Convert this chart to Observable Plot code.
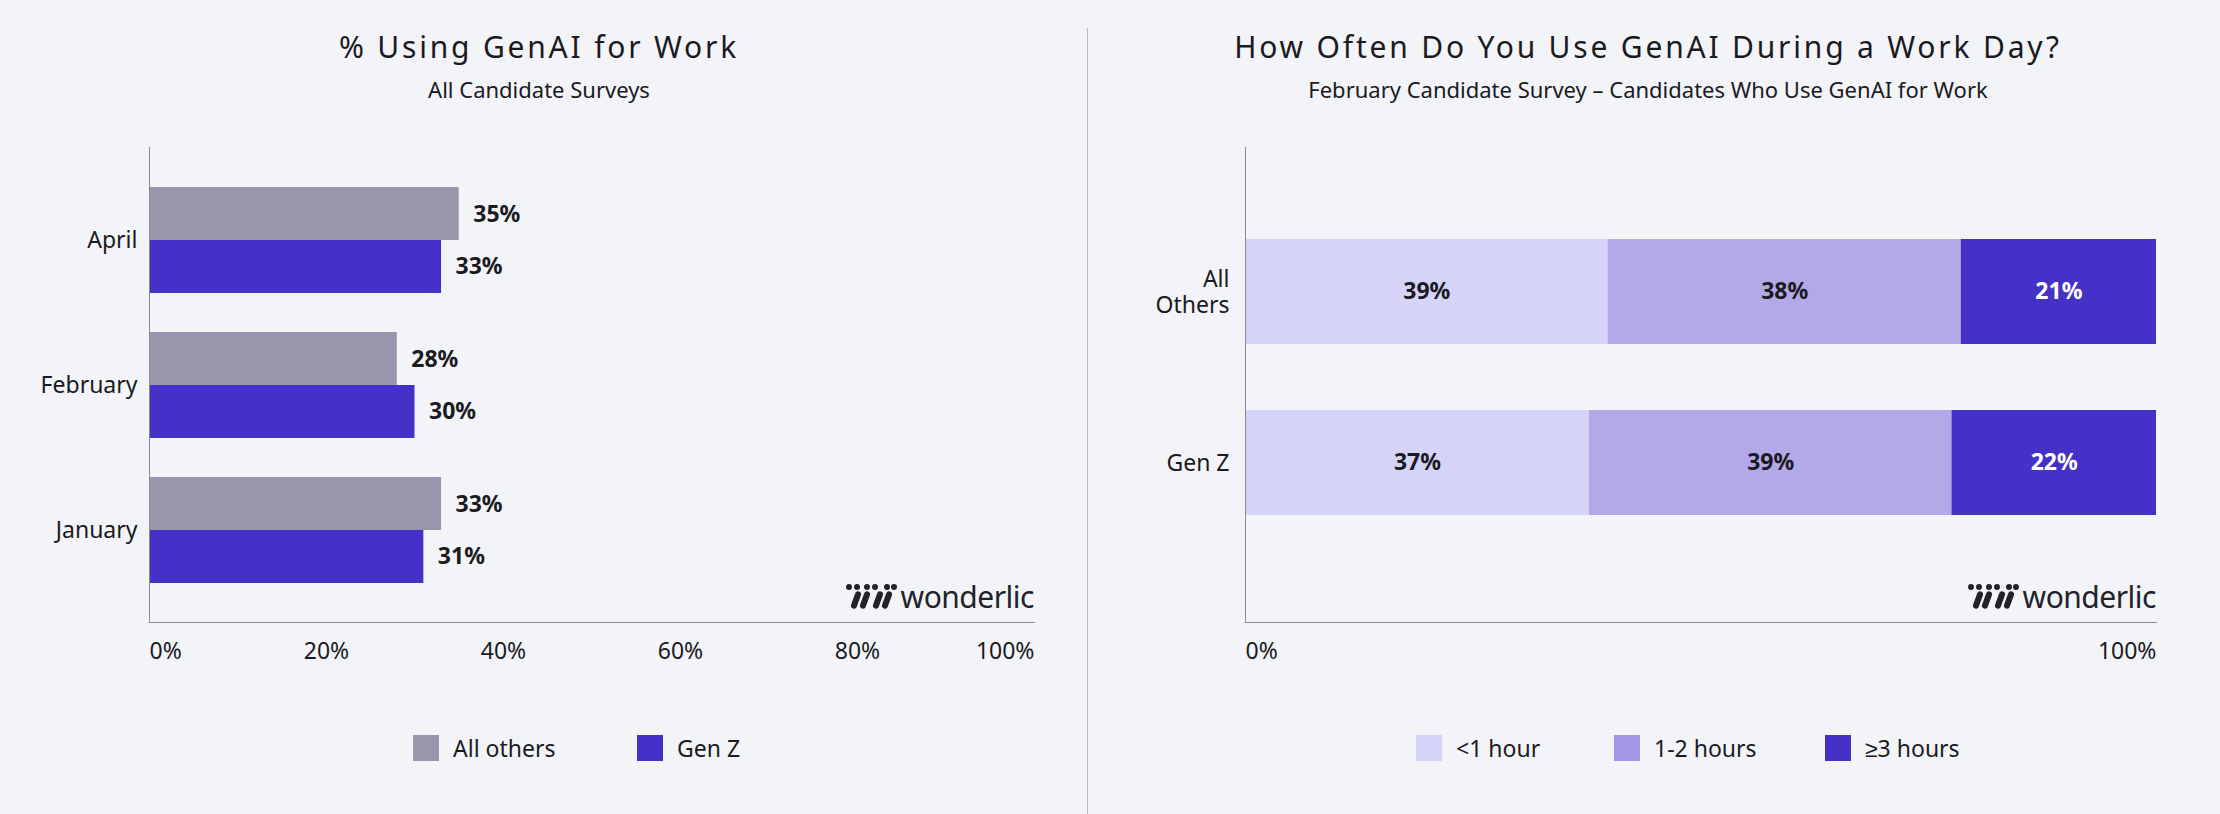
<!DOCTYPE html>
<html><head><meta charset="utf-8">
<script src="https://cdn.jsdelivr.net/npm/d3@7"></script>
<script src="https://cdn.jsdelivr.net/npm/@observablehq/plot@0.6"></script>
<style>
body{margin:0;background:#f3f4f7;font-family:"Noto Sans",sans-serif;color:#1a1a1f}
#page{position:relative;width:2220px;height:814px;overflow:hidden;background:#f3f4f7}
.abs{position:absolute}
.title{font-size:30px;letter-spacing:2.8px;transform:translateX(-50%);white-space:nowrap}
.sub{font-size:22px;transform:translateX(-50%);white-space:nowrap}
.leg{font-size:23px;display:flex;align-items:center;white-space:nowrap}
.sw{width:26px;height:26px;display:inline-block;margin-right:14px}
.logo{font-size:30px;display:flex;align-items:center;color:#22222a;letter-spacing:-0.5px}
</style></head>
<body><div id="page"></div>
<script>
const months = ["April","February","January"];
const series = ["All others","Gen Z"];
const allOthers = [35,28,33];
const genZ = [33,30,31];
const xTicks = [0,20,40,60,80,100];

const groups = ["All Others","Gen Z"];
const freqCats = ["<1 hour","1-2 hours","≥3 hours"];
const freqAllOthers = [39,38,21];
const freqGenZ = [37,39,22];

const colGray="#9896ad", colBlue="#4530c8", colLight="#d5d3f7", colMid="#b3a8e8";
const page=document.getElementById("page");
const font='"Noto Sans",sans-serif';
const FS=23;

const left=[];
months.forEach((m,i)=>{left.push({month:m,series:series[0],v:allOthers[i]});left.push({month:m,series:series[1],v:genZ[i]});});
const p1=Plot.plot({
  width:1087,height:814,marginTop:147,marginBottom:192,marginLeft:149,marginRight:53,
  style:{background:"transparent",fontFamily:font,fontSize:FS+"px",color:"#1a1a1f"},
  x:{domain:[0,100],axis:null},
  y:{domain:months,paddingInner:0.27,paddingOuter:0.27,label:null,tickSize:0,tickPadding:12},
  color:{domain:series,range:[colGray,colBlue]},
  marks:[
    Plot.barX(left.filter(d=>d.series===series[0]),{x:"v",y:"month",fill:colGray,insetBottom:53}),
    Plot.barX(left.filter(d=>d.series===series[1]),{x:"v",y:"month",fill:colBlue,insetTop:53}),
    Plot.text(left.filter(d=>d.series===series[0]),{x:"v",y:"month",text:d=>d.v+"%",dx:14,dy:-26,textAnchor:"start",fontWeight:"bold",fontSize:FS}),
    Plot.text(left.filter(d=>d.series===series[1]),{x:"v",y:"month",text:d=>d.v+"%",dx:14,dy:26,textAnchor:"start",fontWeight:"bold",fontSize:FS}),
    Plot.ruleX([0],{stroke:"#8a8a94"}),
    Plot.axisX([0],{tickSize:0,tickPadding:20,textAnchor:"start",tickFormat:d=>d+"%",fontSize:FS,label:null}),
    Plot.axisX(xTicks.slice(1,5),{tickSize:0,tickPadding:20,tickFormat:d=>d+"%",fontSize:FS,label:null}),
    Plot.axisX([100],{tickSize:0,tickPadding:20,textAnchor:"end",tickFormat:d=>d+"%",fontSize:FS,label:null}),
    Plot.frame({anchor:"bottom",stroke:"#8a8a94"})
  ]
});
p1.style.position="absolute";p1.style.left="0px";p1.style.top="0px";
page.appendChild(p1);

const right=[];
groups.forEach((g,gi)=>{const vals=gi===0?freqAllOthers:freqGenZ;freqCats.forEach((c,ci)=>right.push({group:g,cat:c,v:vals[ci]}));});
const p2=Plot.plot({
  width:1110,height:814,marginTop:147,marginBottom:192,marginLeft:135,marginRight:64,
  style:{background:"transparent",fontFamily:font,fontSize:FS+"px",color:"#1a1a1f"},
  x:{domain:[0,1],axis:null},
  y:{domain:groups,paddingInner:0.384,paddingOuter:0.576,align:0.465,axis:null},
  color:{domain:freqCats,range:[colLight,colMid,colBlue]},
  marks:[
    Plot.barX(right,Plot.stackX({x:"v",y:"group",fill:"cat",order:freqCats,offset:"normalize"})),
    Plot.text(right,Plot.stackX({x:"v",y:"group",z:"cat",order:freqCats,offset:"normalize",text:d=>d.v+"%",fill:d=>d.cat==="≥3 hours"?"white":"#1a1a1f",fontWeight:"bold",fontSize:FS})),
    Plot.axisY({tickSize:0,tickPadding:16,label:null,fontSize:FS,lineHeight:1.1,tickFormat:d=>d==="All Others"?"All\nOthers":d}),
    Plot.ruleX([0],{stroke:"#8a8a94"}),
    Plot.axisX([0],{tickSize:0,tickPadding:20,textAnchor:"start",tickFormat:d=>"0%",fontSize:FS,label:null}),
    Plot.axisX([1],{tickSize:0,tickPadding:20,textAnchor:"end",tickFormat:d=>"100%",fontSize:FS,label:null}),
    Plot.frame({anchor:"bottom",stroke:"#8a8a94"})
  ]
});
p2.style.position="absolute";p2.style.left="1110px";p2.style.top="0px";
page.appendChild(p2);

function add(html,cls,l,t){const d=document.createElement("div");d.className="abs "+cls;d.style.left=l+"px";d.style.top=t+"px";d.innerHTML=html;page.appendChild(d);return d;}
add("% Using GenAI for Work","title",539,26);
add("All Candidate Surveys","sub",539,74);
add("How Often Do You Use GenAI During a Work Day?","title",1648,26);
add("February Candidate Survey – Candidates Who Use GenAI for Work","sub",1648,74);
const dv=add("","",1087,28);dv.style.width="1px";dv.style.height="786px";dv.style.background="#b8b8c0";
function legend(items,y){items.forEach(([lab,col,x])=>add(`<span class="sw" style="background:${col}"></span>${lab}`,"leg",x,y));}
legend([["All others",colGray,413],["Gen Z",colBlue,637]],732);
legend([["&lt;1 hour",colLight,1416],["1-2 hours","#a297e6",1614],["≥3 hours",colBlue,1825]],732);
const icon=`<svg width="52" height="30" viewBox="0 0 52 30" style="margin-right:4px"><g fill="#22222a">
<circle cx="4" cy="5" r="3"/><circle cx="12" cy="5" r="3"/><circle cx="22" cy="5" r="3"/><circle cx="30" cy="5" r="3"/><circle cx="42" cy="5" r="3"/><circle cx="49" cy="5" r="3"/>
<rect x="8" y="9" width="6" height="18" rx="3" transform="rotate(20 11 18)"/><rect x="17" y="9" width="6" height="18" rx="3" transform="rotate(20 20 18)"/>
<rect x="30" y="9" width="6" height="18" rx="3" transform="rotate(20 33 18)"/><rect x="39" y="9" width="6" height="18" rx="3" transform="rotate(20 42 18)"/></g></svg>`;
const l1=add(icon+"wonderlic","logo",0,576);l1.style.left="";l1.style.right=(2220-1034)+"px";
const l2=add(icon+"wonderlic","logo",0,576);l2.style.left="";l2.style.right=(2220-2156)+"px";
</script></body></html>
